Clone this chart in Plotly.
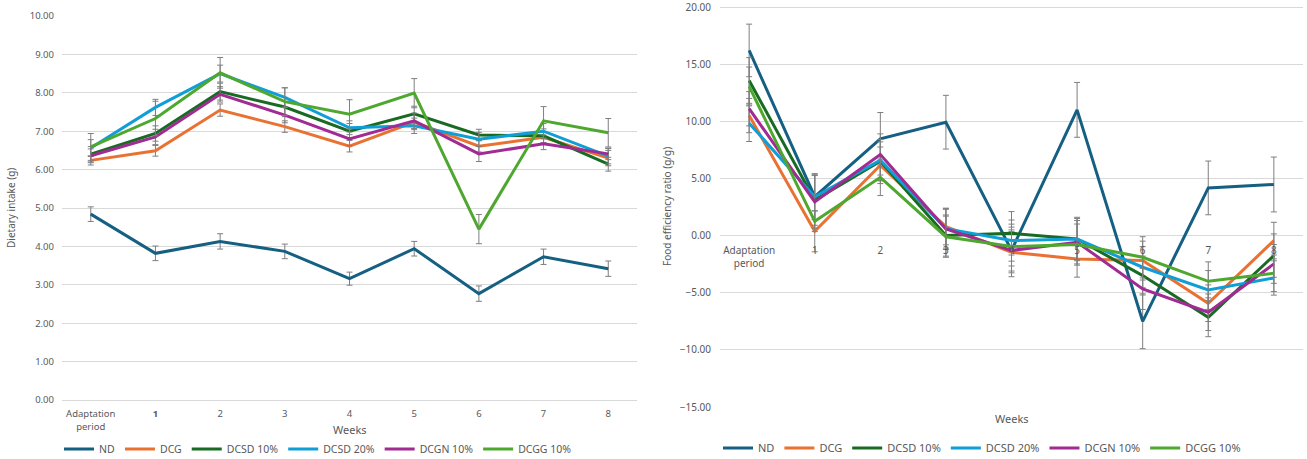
import plotly.graph_objects as go

# ---------------- data ----------------
categories = ["Adaptation period", "1", "2", "3", "4", "5", "6", "7", "8"]
left_ticktext = ["Adaptation<br>period", "<b>1</b>", "2", "3", "4", "5", "6", "7", "8"]
right_ticktext = ["Adaptation<br>period", "1", "2", "3", "4", "5", "6", "7", "8"]

series_names = ["ND", "DCG", "DCSD 10%", "DCSD 20%", "DCGN 10%", "DCGG 10%"]
series_colors = ["#156082", "#E97132", "#196B24", "#0F9ED5", "#A02B93", "#4EA72E"]

# Dietary intake (g)
intake_ND = [4.84, 3.82, 4.13, 3.87, 3.16, 3.94, 2.77, 3.73, 3.42]
intake_DCG = [6.24, 6.49, 7.55, 7.12, 6.61, 7.24, 6.61, 6.84, 6.30]
intake_DCSD10 = [6.40, 6.94, 8.03, 7.63, 7.00, 7.45, 6.90, 6.88, 6.14]
intake_DCSD20 = [6.56, 7.62, 8.50, 7.88, 7.09, 7.14, 6.79, 7.00, 6.35]
intake_DCGN10 = [6.36, 6.85, 7.96, 7.42, 6.80, 7.27, 6.41, 6.67, 6.41]
intake_DCGG10 = [6.59, 7.33, 8.52, 7.77, 7.44, 7.99, 4.45, 7.27, 6.96]

intake_ND_err = [0.19, 0.19, 0.20, 0.19, 0.17, 0.19, 0.20, 0.20, 0.20]
intake_DCG_err = [0.12, 0.14, 0.16, 0.15, 0.15, 0.20, 0.15, 0.15, 0.20]
intake_DCSD10_err = [0.20, 0.20, 0.22, 0.25, 0.20, 0.20, 0.15, 0.18, 0.18]
intake_DCSD20_err = [0.22, 0.21, 0.22, 0.25, 0.18, 0.20, 0.18, 0.20, 0.20]
intake_DCGN10_err = [0.18, 0.20, 0.20, 0.20, 0.18, 0.20, 0.20, 0.15, 0.15]
intake_DCGG10_err = [0.35, 0.45, 0.40, 0.36, 0.38, 0.38, 0.38, 0.37, 0.37]

# Food efficiency ratio (g/g)
fer_ND = [16.2, 3.4, 8.47, 9.92, -1.3, 11.0, -7.5, 4.17, 4.47]
fer_DCG = [10.5, 0.38, 6.15, 0.79, -1.46, -2.04, -2.19, -5.92, -0.44]
fer_DCSD10 = [13.57, 3.1, 6.5, 0.0, 0.2, -0.3, -3.5, -7.15, -1.75]
fer_DCSD20 = [9.83, 3.4, 6.6, 0.6, -0.44, -0.3, -2.77, -4.76, -3.71]
fer_DCGN10 = [11.1, 2.95, 7.1, 0.58, -1.3, -0.58, -4.67, -6.71, -2.48]
fer_DCGG10 = [13.05, 1.25, 5.1, -0.1, -0.96, -0.79, -1.9, -4.0, -3.3]

fer_ND_err = [2.3, 2.0, 2.3, 2.35, 2.3, 2.4, 2.4, 2.35, 2.4]
fer_DCG_err = [1.5, 1.8, 1.6, 1.6, 1.8, 1.6, 1.7, 1.6, 1.6]
fer_DCSD10_err = [2.0, 2.2, 1.7, 1.8, 1.9, 1.9, 1.7, 1.7, 1.9]
fer_DCSD20_err = [1.6, 2.0, 1.8, 1.7, 1.8, 1.8, 1.8, 1.7, 1.5]
fer_DCGN10_err = [1.5, 2.3, 1.8, 1.8, 1.8, 1.9, 1.8, 1.6, 1.7]
fer_DCGG10_err = [1.7, 0.9, 1.6, 1.8, 1.7, 1.8, 1.8, 1.7, 1.6]

intake = [intake_ND, intake_DCG, intake_DCSD10, intake_DCSD20, intake_DCGN10, intake_DCGG10]
intake_err = [intake_ND_err, intake_DCG_err, intake_DCSD10_err, intake_DCSD20_err,
              intake_DCGN10_err, intake_DCGG10_err]
fer = [fer_ND, fer_DCG, fer_DCSD10, fer_DCSD20, fer_DCGN10, fer_DCGG10]
fer_err = [fer_ND_err, fer_DCG_err, fer_DCSD10_err, fer_DCSD20_err, fer_DCGN10_err, fer_DCGG10_err]

# ---------------- figure ----------------
W, H = 1307, 459
FONT = "Noto Sans"
GRAY = "#595959"
GRID = "#D9D9D9"
ERR = "#7F7F7F"

fig = go.Figure()

for name, color, ys, es in zip(series_names, series_colors, intake, intake_err):
    fig.add_trace(go.Scatter(
        x=categories, y=ys, name=name, mode="lines",
        line=dict(color=color, width=3),
        error_y=dict(type="data", array=es, color=ERR, thickness=1, width=3),
        xaxis="x", yaxis="y", legend="legend",
    ))

for name, color, ys, es in zip(series_names, series_colors, fer, fer_err):
    fig.add_trace(go.Scatter(
        x=categories, y=ys, name=name, mode="lines",
        line=dict(color=color, width=3),
        error_y=dict(type="data", array=es, color=ERR, thickness=1, width=3),
        xaxis="x2", yaxis="y2", legend="legend2",
    ))

def px_x(p):
    return p / W

def px_y(p):
    return 1 - p / H

# plot area pixel boxes
L_x0, L_x1, L_y0, L_y1 = 62, 637, 16, 400
R_x0, R_x1, R_y0, R_y1 = 720, 1303, 7, 407

# right axis: -15 at R_y1, 20 at R_y0; extend the area to the top of the page
r_min, r_top_val = -15, 20
r_ppu = (R_y1 - R_y0) / (r_top_val - r_min)
R_area_top = 1
r_max = r_top_val + (R_y0 - R_area_top) / r_ppu
r_dom = [px_y(R_y1), px_y(R_area_top)]
zero_pos = r_dom[0] + (0 - r_min) / (r_max - r_min) * (r_dom[1] - r_dom[0])

tickfont = dict(family=FONT, size=9.5, color=GRAY)

fig.update_layout(
    width=W, height=H,
    margin=dict(l=0, r=0, t=0, b=0, autoexpand=False),
    paper_bgcolor="white", plot_bgcolor="white",
    font=dict(family=FONT, color=GRAY),
    xaxis=dict(
        domain=[px_x(L_x0), px_x(L_x1)], anchor="y",
        type="category", tickvals=categories, ticktext=left_ticktext,
        showgrid=False, showline=True, linecolor=GRID, linewidth=1,
        ticks="", tickfont=tickfont, ticklabelstandoff=5, zeroline=False,
    ),
    yaxis=dict(
        domain=[px_y(L_y1), px_y(L_y0)], anchor="x",
        range=[0, 10], tickvals=[0, 1, 2, 3, 4, 5, 6, 7, 8, 9, 10], tickformat=".2f",
        showgrid=True, gridcolor=GRID, gridwidth=1, zeroline=False,
        showline=False, ticks="", tickfont=tickfont, ticklabelstandoff=7,
    ),
    xaxis2=dict(
        domain=[px_x(R_x0), px_x(R_x1)], anchor="free", position=zero_pos,
        type="category", tickvals=categories, ticktext=right_ticktext,
        showgrid=False, showline=False,
        ticks="", tickfont=dict(family=FONT, size=10, color=GRAY),
        ticklabelstandoff=7, zeroline=False,
    ),
    yaxis2=dict(
        domain=r_dom, anchor="x2",
        range=[r_min, r_max], tickvals=[-15, -10, -5, 0, 5, 10, 15, 20],
        tickformat=".2f", ticklabeloverflow="allow",
        showgrid=True, gridcolor=GRID, gridwidth=1, zeroline=False,
        showline=False, ticks="", tickfont=dict(family=FONT, size=10, color=GRAY),
        ticklabelstandoff=8,
    ),
    legend=dict(
        orientation="h", x=px_x(318), xanchor="center", y=px_y(449), yanchor="middle",
        font=dict(family=FONT, size=10.5, color=GRAY), bgcolor="rgba(0,0,0,0)",
        itemwidth=30, tracegroupgap=0,
    ),
    legend2=dict(
        orientation="h", x=px_x(982), xanchor="center", y=px_y(448), yanchor="middle",
        font=dict(family=FONT, size=11, color=GRAY), bgcolor="rgba(0,0,0,0)",
        itemwidth=30, tracegroupgap=0,
    ),
    annotations=[
        dict(text="Weeks", xref="paper", yref="paper", x=px_x(350), y=px_y(429),
             showarrow=False, font=dict(family=FONT, size=11, color=GRAY),
             xanchor="center", yanchor="middle"),
        dict(text="Weeks", xref="paper", yref="paper", x=px_x(1012), y=px_y(418),
             showarrow=False, font=dict(family=FONT, size=11, color=GRAY),
             xanchor="center", yanchor="middle"),
        dict(text="Dietary intake (g)", xref="paper", yref="paper", x=px_x(11), y=px_y(208),
             showarrow=False, textangle=-90, font=dict(family=FONT, size=10, color=GRAY),
             xanchor="center", yanchor="middle"),
        dict(text="Food efficiency ratio (g/g)", xref="paper", yref="paper", x=px_x(667),
             y=px_y(207), showarrow=False, textangle=-90,
             font=dict(family=FONT, size=10, color=GRAY),
             xanchor="center", yanchor="middle"),
    ],
)

fig.write_html(
    "out.html",
    config={"displayModeBar": False},
    post_script="document.body.style.margin='0';document.body.style.overflow='hidden';",
)
